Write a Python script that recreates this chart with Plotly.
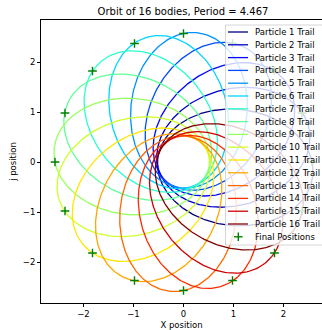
import numpy as np
import plotly.graph_objects as go

# ---------------- data ----------------
particle_labels = [
    "Particle 1 Trail", "Particle 2 Trail", "Particle 3 Trail", "Particle 4 Trail",
    "Particle 5 Trail", "Particle 6 Trail", "Particle 7 Trail", "Particle 8 Trail",
    "Particle 9 Trail", "Particle 10 Trail", "Particle 11 Trail", "Particle 12 Trail",
    "Particle 13 Trail", "Particle 14 Trail", "Particle 15 Trail", "Particle 16 Trail",
]
final_label = "Final Positions"

# final positions of the 16 bodies (x, y)
final_x = [2.57, 2.37, 1.82, 0.98, 0.00, -0.98, -1.82, -2.37,
           -2.57, -2.37, -1.82, -0.98, 0.00, 0.98, 1.82, 2.37]
final_y = [0.00, 0.98, 1.82, 2.37, 2.57, 2.37, 1.82, 0.98,
           0.00, -0.98, -1.82, -2.37, -2.57, -2.37, -1.82, -0.98]

# orbit shape read from the trails (focus at origin)
apoapsis_radius = 2.60
periapsis_radius = 0.52
apse_lag_deg = 6.0          # apoapsis lies this many degrees before the final position

title_text = "Orbit of 16 bodies, Period = 4.467"
x_tick_vals = [-2, -1, 0, 1, 2]
y_tick_vals = [-2, -1, 0, 1, 2]

# jet colormap, 16 samples
jet_colors = ["#000080", "#0000cd", "#0008ff", "#004dff", "#0091ff", "#00d5ff",
              "#29ffce", "#60ff97", "#97ff60", "#ceff29", "#ffe600", "#ffa700",
              "#ff6800", "#ff2900", "#cd0000", "#800000"]

# ---------------- figure ----------------
W, H = 322, 330
ML, MR, MT, MB = 41, 0, 20, 27
PW, PH = W - ML - MR, H - MT - MB
FONT = "DejaVu Sans"

fig = go.Figure()

e = (apoapsis_radius - periapsis_radius) / (apoapsis_radius + periapsis_radius)
p = apoapsis_radius * (1 - e)
nu = np.linspace(0, 2 * np.pi, 500)
for name, fx, fy, col in zip(particle_labels, final_x, final_y, jet_colors):
    theta = np.arctan2(fy, fx)
    phi_apo = theta - np.deg2rad(apse_lag_deg)
    r = p / (1 + e * np.cos(nu))
    ang = phi_apo + np.pi + nu
    fig.add_trace(go.Scatter(x=r * np.cos(ang), y=r * np.sin(ang), mode="lines",
                             name=name, line=dict(color=col, width=1.3),
                             showlegend=False, hoverinfo="skip"))

fig.add_trace(go.Scatter(x=final_x, y=final_y, mode="markers", name=final_label,
                         marker=dict(symbol="cross-thin", size=6.2,
                                     line=dict(color="#008000", width=1.4)),
                         showlegend=False))

# ---------------- manual legend (pixel helpers) ----------------
def px(xp):
    return (xp - ML) / PW

def py(yp):
    return (H - MB - yp) / PH

shapes = []
annotations = []
shapes.append(dict(type="rect", xref="paper", yref="paper", layer="above",
                   x0=px(225.5), x1=px(345), y0=py(245), y1=py(25),
                   fillcolor="rgba(255,255,255,0.8)",
                   line=dict(color="#cccccc", width=0.8)))
row0, step = 32.0, 12.8
for i, (name, col) in enumerate(zip(particle_labels, jet_colors)):
    yy = row0 + step * i
    shapes.append(dict(type="line", xref="paper", yref="paper", layer="above",
                       x0=px(228), x1=px(248), y0=py(yy), y1=py(yy),
                       line=dict(color=col, width=1.3)))
    annotations.append(dict(text=name, xref="paper", yref="paper", x=px(253), y=py(yy),
                            xanchor="left", yanchor="middle", showarrow=False,
                            font=dict(family=FONT, size=8.5, color="#000000")))
yy = row0 + step * 16
cx = 238.3
shapes.append(dict(type="line", xref="paper", yref="paper", layer="above",
                   x0=px(cx - 4.3), x1=px(cx + 4.3), y0=py(yy), y1=py(yy),
                   line=dict(color="#008000", width=1.4)))
shapes.append(dict(type="line", xref="paper", yref="paper", layer="above",
                   x0=px(cx), x1=px(cx), y0=py(yy - 4.3), y1=py(yy + 4.3),
                   line=dict(color="#008000", width=1.4)))
annotations.append(dict(text=final_label, xref="paper", yref="paper", x=px(253), y=py(yy),
                        xanchor="left", yanchor="middle", showarrow=False,
                        font=dict(family=FONT, size=8.5, color="#000000")))

fig.update_layout(
    width=W, height=H,
    margin=dict(l=ML, r=MR, t=MT, b=MB, pad=0),
    paper_bgcolor="white", plot_bgcolor="white",
    font=dict(family=FONT, size=8.5, color="#000000"),
    title=dict(text=title_text, x=(183 - ML) / PW, xref="paper", xanchor="center",
               y=1 - 11.5 / H, yanchor="middle",
               font=dict(family=FONT, size=10, color="#000000")),
    showlegend=False,
    shapes=shapes, annotations=annotations,
    xaxis=dict(range=[-2.85, 2.77], tickvals=x_tick_vals, ticks="outside", ticklen=3,
               tickwidth=0.8, tickcolor="#000", showline=True, linecolor="#000",
               linewidth=0.8, mirror=True, showgrid=False, zeroline=False,
               title=dict(text="X position", standoff=3,
                          font=dict(family=FONT, size=8.5, color="#000")),
               tickfont=dict(family=FONT, size=8.5, color="#000")),
    yaxis=dict(range=[-2.82, 2.84], tickvals=y_tick_vals, ticks="outside", ticklen=3,
               tickwidth=0.8, tickcolor="#000", showline=True, linecolor="#000",
               linewidth=0.8, mirror=False, showgrid=False, zeroline=False,
               title=dict(text="j position", standoff=4,
                          font=dict(family=FONT, size=8.5, color="#000")),
               tickfont=dict(family=FONT, size=8.5, color="#000")),
)

fig.write_html("out.html")
